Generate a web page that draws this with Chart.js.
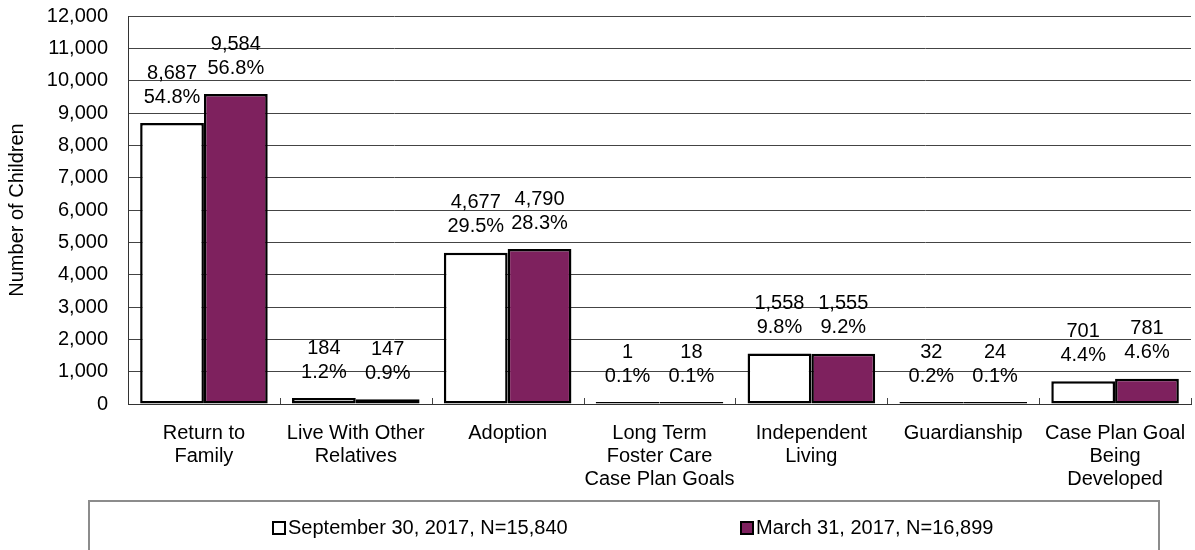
<!DOCTYPE html>
<html>
<head>
<meta charset="utf-8">
<script src="https://cdn.jsdelivr.net/npm/chart.js@4/dist/chart.umd.min.js"></script>
<style>
  body { margin: 0; background: #fff; font-family: "Liberation Sans", Arial, sans-serif; }
  #wrap { position: relative; width: 1195px; height: 550px; overflow: hidden; }
  #legend { position: absolute; left: 88px; top: 500px; width: 1072px; height: 70px;
            border: 2px solid #8c8c8c; box-sizing: border-box; }
  .item { position: absolute; top: 14px; font-size: 20px; color: #000; white-space: nowrap; }
  .box { display: inline-block; width: 10px; height: 10px; border: 2px solid #000; margin-right: 2px; vertical-align: -1px; }
</style>
</head>
<body>
<div id="wrap">
  <canvas id="myChart" width="1195" height="550"></canvas>
  <div id="legend">
    <div class="item" style="left:182px"><span class="box" style="background:#fff"></span>September 30, 2017, N=15,840</div>
    <div class="item" style="left:650px"><span class="box" style="background:#7e215e"></span>March 31, 2017, N=16,899</div>
  </div>
</div>
<script>
var categories = [['Return to', 'Family'], ['Live With Other', 'Relatives'], ['Adoption'],
                  ['Long Term', 'Foster Care', 'Case Plan Goals'], ['Independent', 'Living'],
                  ['Guardianship'], ['Case Plan Goal', 'Being', 'Developed']];
var sepCounts = [8687, 184, 4677, 1, 1558, 32, 701];
var sepPct = ['54.8%', '1.2%', '29.5%', '0.1%', '9.8%', '0.2%', '4.4%'];
var marCounts = [9584, 147, 4790, 18, 1555, 24, 781];
var marPct = ['56.8%', '0.9%', '28.3%', '0.1%', '9.2%', '0.1%', '4.6%'];
var seriesNames = ['September 30, 2017, N=15,840', 'March 31, 2017, N=16,899'];

var FONT = '"Liberation Sans", Arial, sans-serif';

// two-line labels (count + percent) above each bar, and small category ticks on the baseline
var labelPlugin = {
  id: 'barLabels',
  afterDatasetsDraw: function(c) {
    var ctx = c.ctx;
    var pcts = [sepPct, marPct];
    ctx.save();
    ctx.font = '20px ' + FONT;
    ctx.fillStyle = '#000';
    ctx.textAlign = 'center';
    ctx.textBaseline = 'middle';
    c.data.datasets.forEach(function(ds, d) {
      c.getDatasetMeta(d).data.forEach(function(bar, i) {
        var top = bar.y;
        ctx.fillText(ds.data[i].toLocaleString('en-US'), bar.x, top - 50);
        ctx.fillText(pcts[d][i], bar.x, top - 26);
      });
    });
    // category boundary ticks
    var bottom = c.chartArea.bottom;
    var step = (c.chartArea.right - c.chartArea.left) / categories.length;
    ctx.strokeStyle = '#444';
    ctx.lineWidth = 1;
    for (var k = 1; k <= categories.length; k++) {
      var px = Math.round(c.chartArea.left + step * k) + 0.5;
      ctx.beginPath();
      ctx.moveTo(px, bottom);
      ctx.lineTo(px, bottom - 6);
      ctx.stroke();
    }
    ctx.restore();
  }
};

var ctx = document.getElementById('myChart').getContext('2d');
var myChart = new Chart(ctx, {
  type: 'bar',
  data: {
    labels: categories,
    datasets: [{
      label: seriesNames[0],
      data: sepCounts,
      backgroundColor: '#ffffff',
      borderColor: '#000000',
      borderWidth: 2.5,
      borderSkipped: false,
      minBarLength: 2
    }, {
      label: seriesNames[1],
      data: marCounts,
      backgroundColor: '#7e215e',
      borderColor: '#000000',
      borderWidth: 2.5,
      borderSkipped: false,
      minBarLength: 2
    }]
  },
  options: {
    responsive: false,
    animation: false,
    layout: { padding: { left: 0, right: 4, top: 0, bottom: 50 } },
    datasets: { bar: { barPercentage: 1, categoryPercentage: 0.84 } },
    plugins: { legend: { display: false }, tooltip: { enabled: false } },
    scales: {
      x: {
        grid: { display: false, drawTicks: false },
        border: { display: true, color: '#333', width: 1 },
        ticks: { color: '#000', padding: 18, maxRotation: 0, autoSkip: false,
                 font: { family: FONT, size: 20, lineHeight: 1.15 } },
        afterFit: function(s) { s.height = 96; s.paddingLeft = 0; s.paddingRight = 0; }
      },
      y: {
        min: 0, max: 12000,
        grid: { color: '#444', lineWidth: 1, drawTicks: false },
        border: { display: true, color: '#333', width: 1 },
        ticks: { stepSize: 1000, color: '#000', padding: 20,
                 font: { family: FONT, size: 20 },
                 callback: function(v) { return v.toLocaleString('en-US'); } },
        title: { display: true, text: 'Number of Children', color: '#000',
                 font: { family: FONT, size: 20 }, padding: { top: 5, bottom: 0 } },
        afterFit: function(s) { s.width = 128; s.paddingTop = 16; s.paddingBottom = 0; }
      }
    }
  },
  plugins: [labelPlugin]
});
</script>
</body>
</html>
